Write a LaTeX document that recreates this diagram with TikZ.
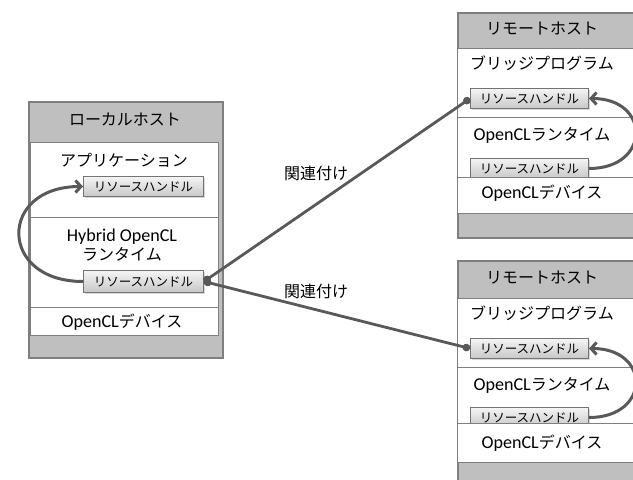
\documentclass[tikz,border=0pt]{standalone}
\usepackage{fontspec}
\setmainfont{Carlito}[Scale=1.13]
\newfontfamily\jp{Noto Sans CJK JP}
\usetikzlibrary{arrows.meta,shadows}
\definecolor{hdr}{HTML}{BFBFBF}
\definecolor{edge}{HTML}{7F7F7F}
\definecolor{conncol}{HTML}{595959}
\tikzset{
  hostbox/.style={draw=edge,fill=hdr,line width=1.5pt,anchor=north west,inner sep=0pt},
  sect/.style={draw=edge,fill=white,line width=1.2pt,anchor=north west,inner sep=0pt},
  handle/.style={draw=black!55,line width=1pt,top color=black!4,bottom color=black!22,
    minimum width=118pt,minimum height=20pt,inner sep=0pt,anchor=north west,
    drop shadow={opacity=0.3,shadow xshift=1.2pt,shadow yshift=-1.2pt},
    font=\jp\fontsize{12.5}{14}\selectfont},
  lbl/.style={font=\fontsize{16}{19.5}\selectfont,inner sep=0pt,align=center},
  conn/.style={draw=conncol,line width=2.8pt,{Circle[length=7.5pt]}-{Circle[length=7.5pt]}},
  loop/.style={draw=conncol,line width=3pt,-{Straight Barb[length=5.5pt,width=12pt]}},
}
\begin{document}
\begin{tikzpicture}[x=1pt,y=-1pt]
\useasboundingbox (0,0) rectangle (633,480);
% ---------- local host
\node[hostbox,minimum width=194pt,minimum height=256pt] (lh) at (28,101) {};
\node[lbl] (lht) at (125,119) {\jp ローカルホスト};
\node[sect,minimum width=188pt,minimum height=75pt] (la) at (30,142) {};
\node[sect,minimum width=188pt,minimum height=90pt] (lr) at (30,217) {};
\node[sect,minimum width=188pt,minimum height=28pt] (ld) at (30,307) {};
\node[lbl] (lat) at (124,160) {\jp アプリケーション};
\node[lbl] (lrt) at (122,245) {Hybrid OpenCL\\[-1pt]{\jp ランタイム}};
\node[lbl] (ldt) at (122,322) {OpenCL{\jp デバイス}};
\node[handle,minimum width=120pt] (lh1) at (83,176) {リソースハンドル};
\node[handle,minimum width=120pt,minimum height=22pt] (lh2) at (83,270) {リソースハンドル};
% ---------- remote host 1
\node[hostbox,minimum width=210pt,minimum height=225pt] (r1) at (457,12) {};
\node[lbl] (r1t) at (542,29) {\jp リモートホスト};
\node[sect,minimum width=200pt,minimum height=69pt] (r1b) at (457,48) {};
\node[sect,minimum width=200pt,minimum height=60pt] (r1r) at (457,117) {};
\node[lbl] (r1bt) at (542,63) {\jp ブリッジプログラム};
\node[lbl] (r1rt) at (542,135) {OpenCL{\jp ランタイム}};
\node[handle] (r1h1) at (470,88) {リソースハンドル};
\node[handle] (r1h2) at (470,158) {リソースハンドル};
\node[sect,minimum width=200pt,minimum height=36pt] (r1d) at (457,177) {};
\node[lbl] (r1dt) at (542,193) {OpenCL{\jp デバイス}};
% ---------- remote host 2
\node[hostbox,minimum width=210pt,minimum height=240pt] (r2) at (457,260) {};
\node[lbl] (r2t) at (542,278) {\jp リモートホスト};
\node[sect,minimum width=200pt,minimum height=69pt] (r2b) at (457,298) {};
\node[sect,minimum width=200pt,minimum height=56pt] (r2r) at (457,367) {};
\node[lbl] (r2bt) at (542,313) {\jp ブリッジプログラム};
\node[lbl] (r2rt) at (542,385) {OpenCL{\jp ランタイム}};
\node[handle] (r2h1) at (470,338) {リソースハンドル};
\node[handle] (r2h2) at (470,407) {リソースハンドル};
\node[sect,minimum width=200pt,minimum height=39pt] (r2d) at (457,423) {};
\node[lbl] (r2dt) at (542,443) {OpenCL{\jp デバイス}};
% ---------- loops
\draw[loop] (lh2.west) .. controls +(-85,0) and +(-85,0) .. (lh1.west);
\draw[loop] (r1h2.east) .. controls +(62,0) and +(62,0) .. (r1h1.east);
\draw[loop] (r2h2.east) .. controls +(62,0) and +(62,0) .. (r2h1.east);
% ---------- connectors
\draw[conn] (lh2.east) -- (r1h1.west);
\draw[conn] (lh2.east) -- (r2h1.west);
\node[lbl] (c1) at (316,173) {\jp 関連付け};
\node[lbl] (c2) at (316,291) {\jp 関連付け};
\end{tikzpicture}
\end{document}
